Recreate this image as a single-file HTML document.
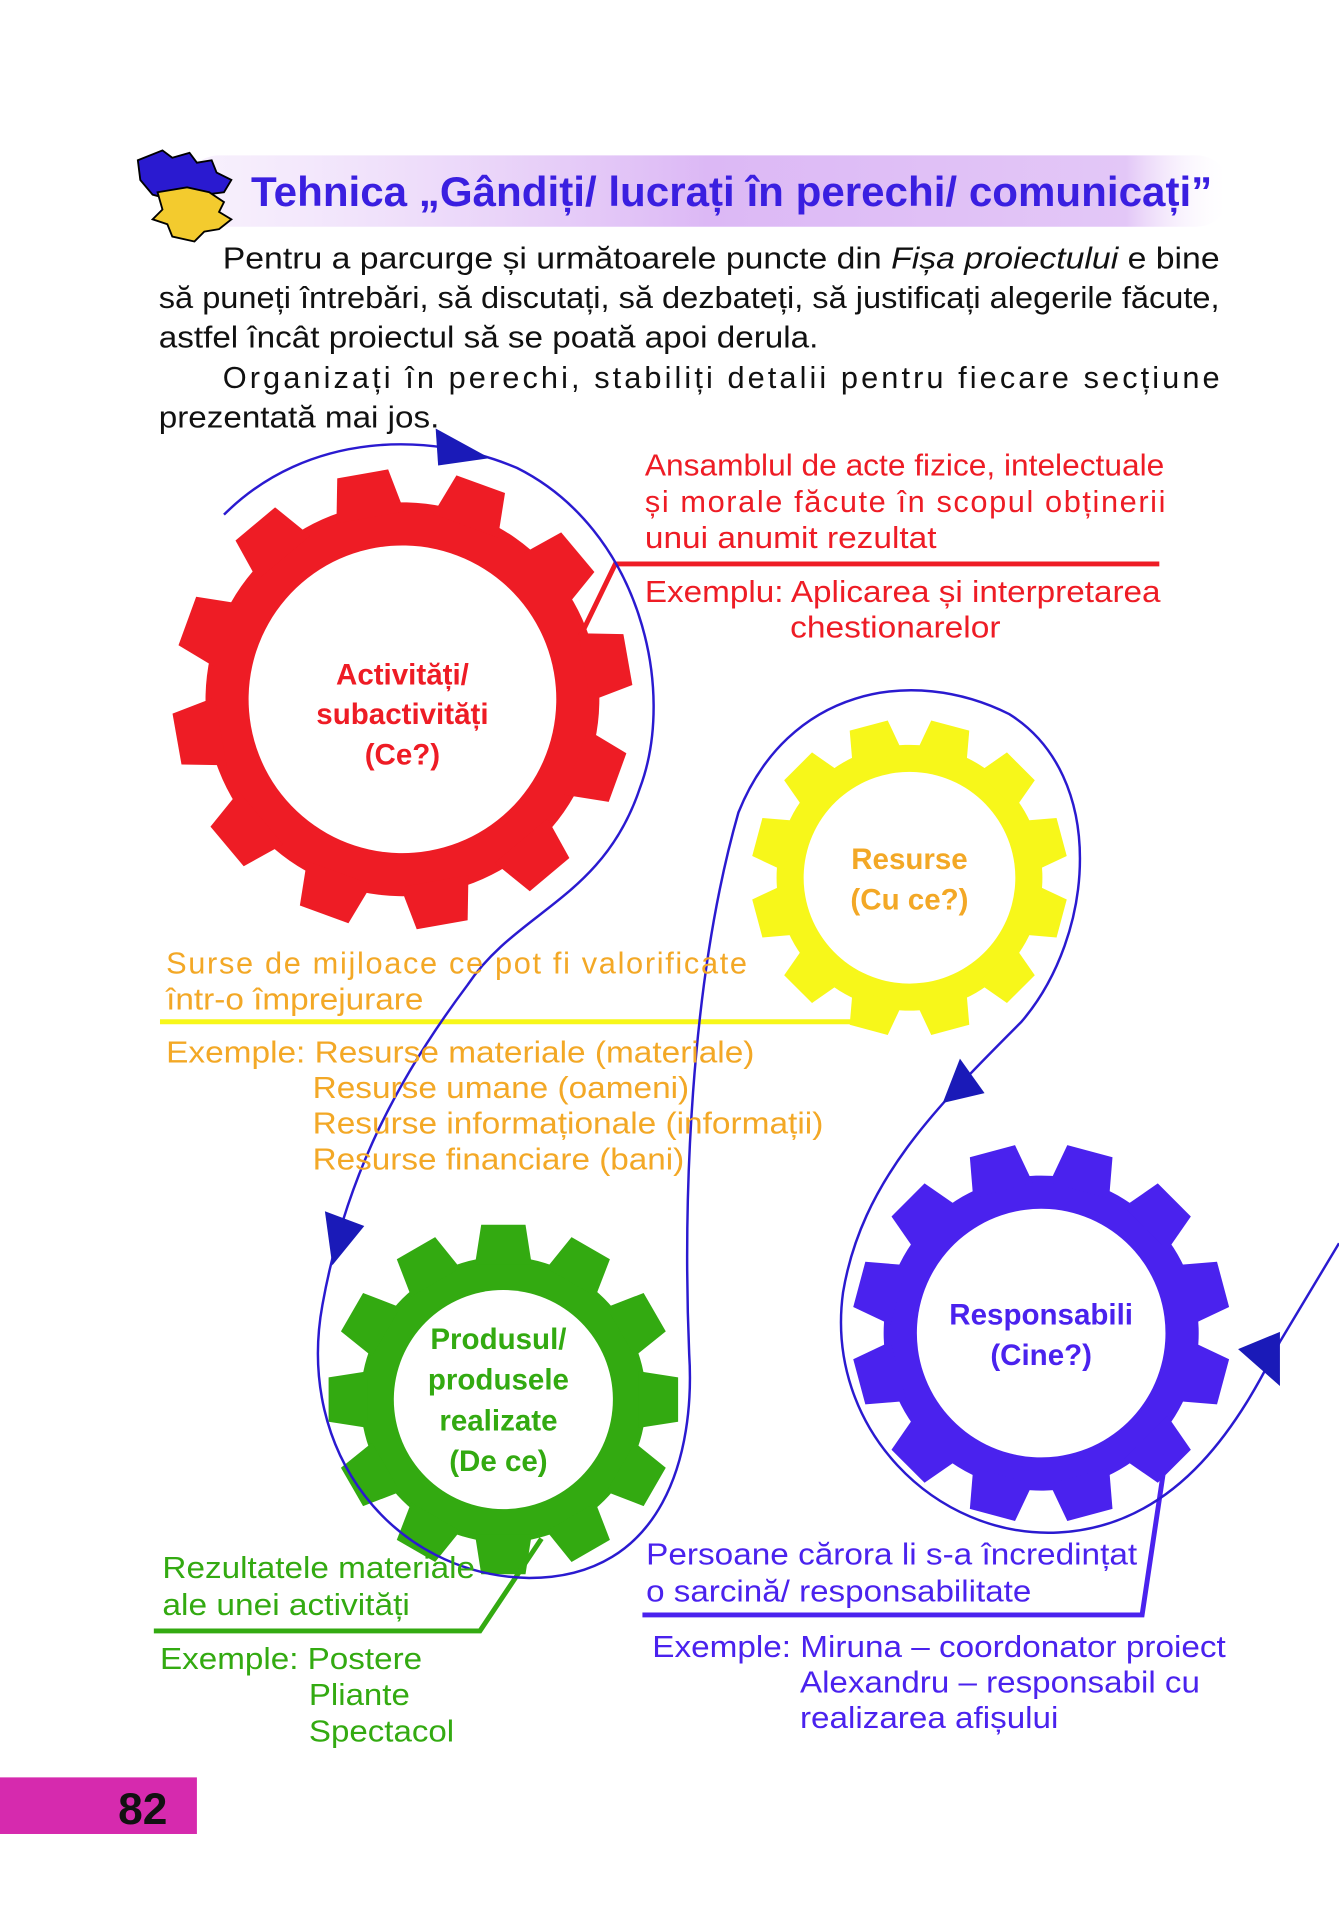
<!DOCTYPE html>
<html><head><meta charset="utf-8"><style>
html,body{margin:0;padding:0;background:#fff;}
svg{display:block;}
text{font-family:"Liberation Sans",sans-serif;}
</style></head><body>
<svg width="1339" height="1929" viewBox="0 0 1088 1567" xmlns="http://www.w3.org/2000/svg">
<defs>
<linearGradient id="band" x1="0" x2="1" y1="0" y2="0">
<stop offset="0" stop-color="#f1e4fb" stop-opacity="0.5"/>
<stop offset="0.5" stop-color="#dcb8f5"/>
<stop offset="0.9" stop-color="#e3c7f7"/>
<stop offset="1" stop-color="#fff" stop-opacity="0"/>
</linearGradient>
</defs>
<rect x="150" y="126" width="850" height="58" rx="28" fill="url(#band)"/>
<path d="M112 130 l20 -8 l8 6 l14 -4 l6 8 l12 -2 l4 10 l12 6 l-6 10 l-16 2 l-20 6 l-22 -6 l-10 -12z" fill="#2a1ad0" stroke="#000" stroke-width="1.5"/>
<path d="M128 156 l24 -4 l18 4 l12 8 l-4 8 l10 6 l-10 8 l-12 2 l-8 8 l-18 -4 l-4 -10 l-12 -4 l8 -8z" fill="#f3cb2e" stroke="#000" stroke-width="1.5"/>
<text x="204" y="167" font-size="34" font-weight="bold" fill="#3a1fe0" textLength="781" lengthAdjust="spacingAndGlyphs">Tehnica „Gândiți/ lucrați în perechi/ comunicați”</text>

<g font-size="25" fill="#111">
<text x="181" y="218" textLength="810" lengthAdjust="spacingAndGlyphs">Pentru a parcurge și următoarele puncte din <tspan font-style="italic">Fișa proiectului</tspan> e bine</text>
<text x="129" y="250" textLength="862" lengthAdjust="spacingAndGlyphs">să puneți întrebări, să discutați, să dezbateți, să justificați alegerile făcute,</text>
<text x="129" y="282" textLength="536" lengthAdjust="spacingAndGlyphs">astfel încât proiectul să se poată apoi derula.</text>
<text x="181" y="315" textLength="810" lengthAdjust="spacing">Organizați în perechi, stabiliți detalii pentru fiecare secțiune</text>
<text x="129" y="347" textLength="228" lengthAdjust="spacingAndGlyphs">prezentată mai jos.</text>
</g>

<!-- Red gear -->
<g transform="translate(327,568) rotate(-10)" fill="#ee1c25">
<circle r="160"/>
<g id="rt"><polygon points="-28,-150 28,-150 21,-186 -21,-186"/></g>
<use href="#rt" transform="rotate(30)"/><use href="#rt" transform="rotate(60)"/><use href="#rt" transform="rotate(90)"/>
<use href="#rt" transform="rotate(120)"/><use href="#rt" transform="rotate(150)"/><use href="#rt" transform="rotate(180)"/>
<use href="#rt" transform="rotate(210)"/><use href="#rt" transform="rotate(240)"/><use href="#rt" transform="rotate(270)"/>
<use href="#rt" transform="rotate(300)"/><use href="#rt" transform="rotate(330)"/>
<circle r="125" fill="#fff"/>
</g>
<g font-size="24" font-weight="bold" fill="#ee1c25" text-anchor="middle">
<text x="327" y="556">Activități/</text><text x="327" y="588">subactivități</text><text x="327" y="621">(Ce?)</text>
</g>

<!-- Yellow gear -->
<g transform="translate(739,713) rotate(15)" fill="#f7f71a">
<circle r="108"/>
<g id="yt"><polygon points="-21,-100 21,-100 16,-128 -16,-128"/></g>
<use href="#yt" transform="rotate(30)"/><use href="#yt" transform="rotate(60)"/><use href="#yt" transform="rotate(90)"/>
<use href="#yt" transform="rotate(120)"/><use href="#yt" transform="rotate(150)"/><use href="#yt" transform="rotate(180)"/>
<use href="#yt" transform="rotate(210)"/><use href="#yt" transform="rotate(240)"/><use href="#yt" transform="rotate(270)"/>
<use href="#yt" transform="rotate(300)"/><use href="#yt" transform="rotate(330)"/>
<circle r="86" fill="#fff"/>
</g>
<g font-size="24" font-weight="bold" fill="#f3a826" text-anchor="middle">
<text x="739" y="706">Resurse</text><text x="739" y="739">(Cu ce?)</text>
</g>

<!-- Purple gear -->
<g transform="translate(846,1083) rotate(15)" fill="#4a22ee">
<circle r="128"/>
<g id="pt"><polygon points="-25,-120 25,-120 19,-153 -19,-153"/></g>
<use href="#pt" transform="rotate(30)"/><use href="#pt" transform="rotate(60)"/><use href="#pt" transform="rotate(90)"/>
<use href="#pt" transform="rotate(120)"/><use href="#pt" transform="rotate(150)"/><use href="#pt" transform="rotate(180)"/>
<use href="#pt" transform="rotate(210)"/><use href="#pt" transform="rotate(240)"/><use href="#pt" transform="rotate(270)"/>
<use href="#pt" transform="rotate(300)"/><use href="#pt" transform="rotate(330)"/>
<circle r="101" fill="#fff"/>
</g>
<g font-size="24" font-weight="bold" fill="#4a22ee" text-anchor="middle">
<text x="846" y="1076">Responsabili</text><text x="846" y="1109">(Cine?)</text>
</g>

<!-- Green gear -->
<g transform="translate(409,1137)" fill="#33aa11">
<circle r="116"/>
<g id="gt"><polygon points="-23,-110 23,-110 18,-142 -18,-142"/></g>
<use href="#gt" transform="rotate(30)"/><use href="#gt" transform="rotate(60)"/><use href="#gt" transform="rotate(90)"/>
<use href="#gt" transform="rotate(120)"/><use href="#gt" transform="rotate(150)"/><use href="#gt" transform="rotate(180)"/>
<use href="#gt" transform="rotate(210)"/><use href="#gt" transform="rotate(240)"/><use href="#gt" transform="rotate(270)"/>
<use href="#gt" transform="rotate(300)"/><use href="#gt" transform="rotate(330)"/>
<circle r="89" fill="#fff"/>
</g>
<g font-size="24" font-weight="bold" fill="#33aa11" text-anchor="middle">
<text x="405" y="1096">Produsul/</text><text x="405" y="1129">produsele</text><text x="405" y="1162">realizate</text><text x="405" y="1195">(De ce)</text>
</g>

<polyline points="470,520 500,458 942,458" fill="none" stroke="#ee1c25" stroke-width="4"/>
<line x1="130" y1="830" x2="700" y2="830" stroke="#f7f71a" stroke-width="4"/>
<polyline points="125,1325 390,1325 440,1250" fill="none" stroke="#33aa11" stroke-width="4"/>
<polyline points="522,1312 928,1312 948,1178" fill="none" stroke="#4a22ee" stroke-width="4"/>

<path d="M182,418 C250,350 350,350 420,380 C520,430 550,560 520,640 C490,730 420,740 380,800 C320,880 280,960 262,1060 C240,1180 320,1280 430,1282 C540,1282 565,1180 560,1100 C555,980 560,800 600,660 C640,560 740,540 820,580 C900,630 890,760 830,830 C760,900 700,960 685,1050 C670,1160 760,1250 860,1245 C960,1240 1010,1150 1040,1090 L1088,1010" fill="none" stroke="#2a1ad0" stroke-width="2"/>
<g fill="#1a1ab8">
<polygon points="354,348 398,372 356,378"/>
<polygon points="264,984 296,996 270,1028"/>
<polygon points="800,888 766,896 780,860"/>
<polygon points="1040,1082 1006,1096 1040,1126"/>
</g>

<g font-size="25" fill="#ee1c25">
<text x="524" y="386" textLength="422" lengthAdjust="spacingAndGlyphs">Ansamblul de acte fizice, intelectuale</text>
<text x="524" y="416" textLength="423" lengthAdjust="spacing">și morale făcute în scopul obținerii</text>
<text x="524" y="445" textLength="237" lengthAdjust="spacingAndGlyphs">unui anumit rezultat</text>
<text x="524" y="489" textLength="419" lengthAdjust="spacingAndGlyphs">Exemplu: Aplicarea și interpretarea</text>
<text x="642" y="518" textLength="171" lengthAdjust="spacingAndGlyphs">chestionarelor</text>
</g>
<g font-size="25" fill="#f3a826">
<text x="135" y="791" textLength="472" lengthAdjust="spacing">Surse de mijloace ce pot fi valorificate</text>
<text x="135" y="820" textLength="209" lengthAdjust="spacingAndGlyphs">într-o împrejurare</text>
<text x="135" y="863" textLength="478" lengthAdjust="spacingAndGlyphs">Exemple: Resurse materiale (materiale)</text>
<text x="254" y="892" textLength="306" lengthAdjust="spacingAndGlyphs">Resurse umane (oameni)</text>
<text x="254" y="921" textLength="415" lengthAdjust="spacingAndGlyphs">Resurse informaționale (informații)</text>
<text x="254" y="950" textLength="302" lengthAdjust="spacingAndGlyphs">Resurse financiare (bani)</text>
</g>
<g font-size="25" fill="#33aa11">
<text x="132" y="1282" textLength="254" lengthAdjust="spacingAndGlyphs">Rezultatele materiale</text>
<text x="132" y="1312" textLength="201" lengthAdjust="spacingAndGlyphs">ale unei activități</text>
<text x="130" y="1356" textLength="213" lengthAdjust="spacingAndGlyphs">Exemple: Postere</text>
<text x="251" y="1385" textLength="82" lengthAdjust="spacingAndGlyphs">Pliante</text>
<text x="251" y="1415" textLength="118" lengthAdjust="spacingAndGlyphs">Spectacol</text>
</g>
<g font-size="25" fill="#4a22ee">
<text x="525" y="1271" textLength="399" lengthAdjust="spacingAndGlyphs">Persoane cărora li s-a încredințat</text>
<text x="525" y="1301" textLength="313" lengthAdjust="spacingAndGlyphs">o sarcină/ responsabilitate</text>
<text x="530" y="1346" textLength="466" lengthAdjust="spacingAndGlyphs">Exemple: Miruna – coordonator proiect</text>
<text x="650" y="1375" textLength="325" lengthAdjust="spacingAndGlyphs">Alexandru – responsabil cu</text>
<text x="650" y="1404" textLength="210" lengthAdjust="spacingAndGlyphs">realizarea afișului</text>
</g>

<rect x="0" y="1444" width="160" height="46" fill="#d62aae"/>
<text x="136" y="1482" font-family="Liberation Serif,serif" font-size="36" font-weight="bold" fill="#111" text-anchor="end">82</text>
</svg>
</body></html>
